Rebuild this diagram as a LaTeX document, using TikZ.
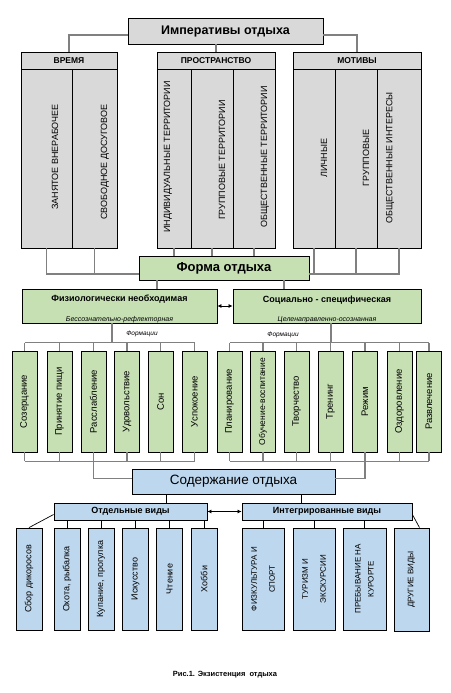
\documentclass[tikz,border=0pt]{standalone}
\usepackage{fontspec}
\setmainfont{Liberation Sans}
\usetikzlibrary{arrows.meta}
\definecolor{boxgray}{HTML}{D9D9D9}
\definecolor{boxgreen}{HTML}{C6E0B4}
\definecolor{boxblue}{HTML}{BDD7EE}
\definecolor{linkgray}{HTML}{808080}
\newcommand{\fsz}[1]{\fontsize{#1}{#1}\selectfont}
\tikzset{
  box/.style={draw, inner sep=0pt, line width=0.8pt},
  graybox/.style={box, fill=boxgray},
  greenbox/.style={box, fill=boxgreen},
  bluebox/.style={box, fill=boxblue},
  link/.style={draw=linkgray, line width=1.2pt},
  blink/.style={draw=black, line width=0.7pt},
  vtext/.style={rotate=90, inner sep=0pt},
  both/.style={{Latex[length=4pt,width=4pt]}-{Latex[length=4pt,width=4pt]}},
}
\begin{document}
\begin{tikzpicture}[x=1pt,y=-1pt]
\useasboundingbox (0,0) rectangle (450,693);

% imperatives
\node[graybox, minimum width=195, minimum height=26] (imp) at (225.5,31) {\fsz{12.5}\bfseries Императивы отдыха};
\node[graybox, minimum width=96, minimum height=17] (vrem) at (69,60.5) {\fsz{8.5}\bfseries ВРЕМЯ};
\node[graybox, minimum width=51, minimum height=179] (vrem1) at (46.5,158.5) {};
\node[graybox, minimum width=45, minimum height=179] (vrem2) at (94.5,158.5) {};
\node[graybox, minimum width=118, minimum height=17] (pros) at (216,60.5) {\fsz{8.5}\bfseries ПРОСТРАНСТВО};
\node[graybox, minimum width=34, minimum height=179] (pros1) at (174,158.5) {};
\node[graybox, minimum width=42, minimum height=179] (pros2) at (212,158.5) {};
\node[graybox, minimum width=42, minimum height=179] (pros3) at (254,158.5) {};
\node[graybox, minimum width=128, minimum height=17] (moti) at (357,60.5) {\fsz{8.5}\bfseries МОТИВЫ};
\node[graybox, minimum width=42, minimum height=179] (moti1) at (314,158.5) {};
\node[graybox, minimum width=42, minimum height=179] (moti2) at (356,158.5) {};
\node[graybox, minimum width=44, minimum height=179] (moti3) at (399,158.5) {};
\foreach \n/\x/\y/\txt in {vt1/55/157/ЗАНЯТОЕ ВНЕРАБОЧЕЕ, vt2/105/162/СВОБОДНОЕ ДОСУГОВОЕ,
    pt1/168/157/ИНДИВИДУАЛЬНЫЕ ТЕРРИТОРИИ, pt2/222/160/ГРУППОВЫЕ ТЕРРИТОРИИ,
    pt3/265/157/ОБЩЕСТВЕННЫЕ ТЕРРИТОРИИ, mt1/324/158/ЛИЧНЫЕ, mt2/366/158/ГРУППОВЫЕ,
    mt3/390/158/ОБЩЕСТВЕННЫЕ ИНТЕРЕСЫ}
  \node[vtext, font=\fsz{9}] (\n) at (\x,\y) {\txt};
\draw[link] ([yshift=-4pt]imp.west) -| (vrem.north);
\draw[link] ([yshift=-4pt]imp.east) -| (moti.north);
\draw[link] (imp.south -| pros.north) -- (pros.north);

% form
\node[greenbox, minimum width=170, minimum height=24] (forma) at (224,268) {\fsz{13}\bfseries Форма отдыха};
\coordinate (fl) at ([yshift=-6pt]forma.west);
\coordinate (fr) at ([yshift=-6pt]forma.east);
\draw[link] (vrem1.south) |- (fl);
\draw[link] (vrem2.south) -- (vrem2.south |- fl);
\draw[link] (moti3.south) |- (fr);
\draw[link] (moti1.south) -- (moti1.south |- fr);
\draw[link] (moti2.south) -- (moti2.south |- fr);
\foreach \i in {1,2,3} \draw[link] (pros\i.south) -- (pros\i.south |- forma.north);

\node[greenbox, minimum width=195, minimum height=34] (phys) at (119.5,306) {};
\node[font={\fsz{9}\bfseries}] (physt) at (119.5,299) {Физиологически необходимая};
\node[font={\fsz{7}\itshape}, anchor=base] (physs) at (119.5,321) {Бессознательно-рефлекторная};
\node[greenbox, minimum width=188, minimum height=34] (soc) at (327,306) {};
\node[font={\fsz{9}\bfseries}] (soct) at (327,300) {Социально - специфическая};
\node[font={\fsz{7}\itshape}, anchor=base] (socs) at (327,321) {Целенаправленно-осознанная};
\draw[link] ([xshift=-67pt]forma.south) -- ([xshift=-67pt]forma.south |- phys.north);
\draw[link] ([xshift=60pt]forma.south) -- ([xshift=60pt]forma.south |- soc.north);
\draw[blink, both] (phys.east) -- (soc.west);

% formations
\foreach \n/\x/\txt in {1/24.5/Созерцание, 2/59.5/Принятие пищи, 3/93.5/Расслабление,
    4/127/Удовольствие, 5/160.5/Сон, 6/194.5/Успокоение, 7/229.5/Планирование,
    8/263/{\fsz{8.5}Обучение-воспитание}, 9/296.5/Творчество, 10/330.5/Тренинг, 11/365/Режим,
    12/399.5/Оздоровление, 13/429/Развлечение}
  \node[greenbox, minimum width=25, minimum height=101,
        label={[vtext, font=\fsz{9.5}]center:\txt}] (f\n) at (\x,401.5) {};
\node[font={\fsz{6.5}\itshape}] (form1) at (142,334) {Формации};
\node[font={\fsz{6.5}\itshape}] (form2) at (283,335) {Формации};
\coordinate (fup) at ([yshift=8pt]f1.north);
\coordinate (rup) at ([yshift=8pt]f7.north);
\foreach \n in {1,...,13} \draw[link] (f\n.north) -- ++(0,-8);
\draw[link] ([xshift=-7.5pt]phys.south) -- ([xshift=-7.5pt]phys.south |- fup);
\draw[link] (fup) -- (fup -| f6.north);
\draw[link] ([xshift=4pt]soc.south) -- ([xshift=4pt]soc.south |- rup);
\draw[link] (rup) -- (rup -| f13.north);

% content
\node[bluebox, minimum width=203, minimum height=25] (cont) at (233.5,481.5) {\fsz{13.5}Содержание отдыха};
\coordinate (fdn) at ([yshift=-9pt]f1.south);
\coordinate (rdn) at ([yshift=-9pt]f7.south);
\foreach \n in {1,...,13} \draw[link] (f\n.south) -- ++(0,9);
\draw[link] (fdn) -- (fdn -| f6.south);
\draw[link] (rdn) -- (rdn -| f13.south);
\draw[link] (f3.south |- fdn) |- ([yshift=3pt]cont.west);
\draw[link] (f11.south |- rdn) |- ([yshift=3pt]cont.east);

\node[bluebox, minimum width=153, minimum height=17] (otd) at (130.5,511.5) {\fsz{9}\bfseries Отдельные виды};
\node[bluebox, minimum width=170, minimum height=17] (intg) at (327,511.5) {\fsz{9}\bfseries Интегрированные виды};
\draw[blink] ([xshift=-67.5pt]cont.south) -- ([xshift=-67.5pt]cont.south |- otd.north);
\draw[blink] ([xshift=67.5pt]cont.south) -- ([xshift=67.5pt]cont.south |- intg.north);
\draw[blink, both] (otd.east) -- (intg.west);

\foreach \n/\x/\txt in {1/29/Сбор дикоросов, 2/67/{Охота, рыбалка}, 3/101/{Купание, прогулка},
    4/135.5/Искусство, 5/169.5/Чтение, 6/204/Хобби}
  \node[bluebox, minimum width=26, minimum height=102,
        label={[vtext, font=\fsz{9}]center:\txt}] (b\n) at (\x,579) {};
\node[bluebox, minimum width=42, minimum height=102,
      label={[vtext, font=\fsz{8}, align=center]center:ФИЗКУЛЬТУРА И\\[10pt]СПОРТ}] (r1) at (263,579) {};
\node[bluebox, minimum width=42, minimum height=102,
      label={[vtext, font=\fsz{8}, align=center]center:ТУРИЗМ И\\[10pt]ЭКСКУРСИИ}] (r2) at (314,579) {};
\node[bluebox, minimum width=43, minimum height=102,
      label={[vtext, font=\fsz{8}, align=center]center:ПРЕБЫВАНИЕ НА\\[5pt]КУРОРТЕ}] (r3) at (364.5,579) {};
\node[bluebox, minimum width=35, minimum height=103,
      label={[vtext, font=\fsz{8}]center:ДРУГИЕ ВИДЫ}] (r4) at (411.5,579.5) {};
\foreach \n in {2,...,6} \draw[blink] (b\n.north) -- (b\n.north |- otd.south);
\draw[blink] ([yshift=-3pt]otd.west) -- (b1.north);
\foreach \n in {1,2,3} \draw[blink] (r\n.north) -- (r\n.north |- intg.south);
\draw[blink] ([yshift=-3pt]intg.east) -- ([xshift=8pt]r4.north);

\node[font={\fsz{7.5}\bfseries}] (cap) at (225,675) {Рис.1. Экзистенция \ отдыха};
\end{tikzpicture}
\end{document}
